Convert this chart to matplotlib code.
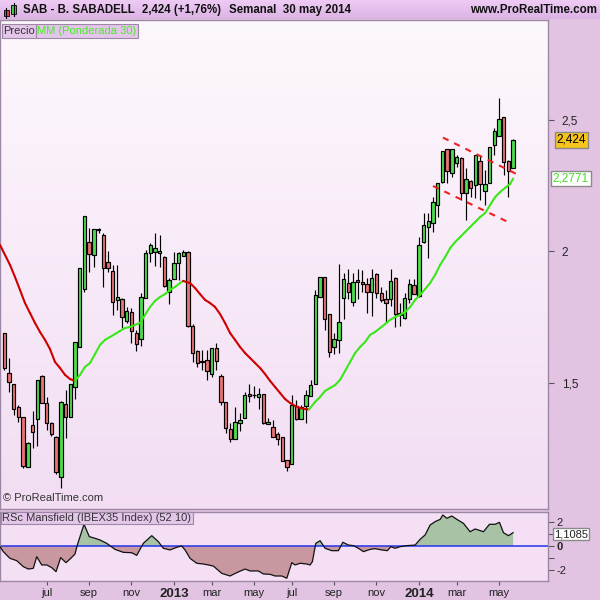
import numpy as np
import pandas as pd
import matplotlib
matplotlib.use("Agg")
import matplotlib.pyplot as plt
from matplotlib.patches import Rectangle
from matplotlib.collections import LineCollection
from matplotlib.colors import LinearSegmentedColormap
import matplotlib.transforms as mtrans

plt.rcParams['font.family'] = ['Liberation Sans', 'DejaVu Sans']

# ---------------- data (weekly candles, SAB - B. SABADELL) ----------------
opens = [1.690, 1.538, 1.496, 1.409, 1.371, 1.181, 1.340, 1.363, 1.527, 1.424,
         1.348, 1.295, 1.143, 1.420, 1.371, 1.485, 1.637, 1.857, 2.036, 1.987,
         2.082, 2.063, 1.960, 1.926, 1.816, 1.819, 1.736, 1.770, 1.690, 1.667,
         1.823, 1.994, 1.998, 1.996, 1.979, 1.846, 1.895, 1.956, 1.983, 1.998,
         1.717, 1.622, 1.582, 1.588, 1.534, 1.633, 1.527, 1.428, 1.325, 1.287,
         1.348, 1.367, 1.458, 1.454, 1.447, 1.458, 1.344, 1.333, 1.306, 1.295,
         1.207, 1.192, 1.413, 1.363, 1.413, 1.451, 1.496, 1.827, 1.903, 1.762,
         1.637, 1.664, 1.823, 1.880, 1.808, 1.892, 1.884, 1.876, 1.846, 1.914,
         1.842, 1.819, 1.819, 1.899, 1.759, 1.747, 1.819, 1.873, 1.831, 2.036,
         2.093, 2.108, 2.177, 2.264, 2.390, 2.299, 2.336, 2.355, 2.222, 2.268,
         2.253, 2.344, 2.230, 2.261, 2.405, 2.439, 2.511, 2.344, 2.317]
highs = [1.690, 1.595, 1.496, 1.416, 1.371, 1.276, 1.394, 1.512, 1.531, 1.447,
         1.352, 1.299, 1.432, 1.474, 1.496, 1.656, 1.937, 2.135, 2.089, 2.085,
         2.089, 2.070, 2.002, 1.949, 1.949, 1.823, 1.789, 1.785, 1.702, 1.842,
         2.006, 2.032, 2.070, 2.063, 1.983, 1.899, 1.998, 1.998, 2.006, 2.002,
         1.724, 1.625, 1.625, 1.625, 1.633, 1.652, 1.534, 1.428, 1.348, 1.409,
         1.386, 1.466, 1.496, 1.489, 1.481, 1.458, 1.367, 1.359, 1.314, 1.295,
         1.207, 1.454, 1.435, 1.416, 1.474, 1.512, 1.854, 1.903, 1.903, 1.762,
         1.690, 1.952, 1.918, 1.933, 1.918, 1.933, 1.930, 1.899, 1.933, 1.918,
         1.865, 1.854, 1.933, 1.903, 1.804, 1.842, 1.895, 1.895, 2.055, 2.146,
         2.146, 2.207, 2.261, 2.382, 2.390, 2.390, 2.367, 2.359, 2.317, 2.272,
         2.367, 2.367, 2.310, 2.397, 2.470, 2.584, 2.511, 2.348, 2.428]
lows = [1.550, 1.466, 1.378, 1.352, 1.177, 1.181, 1.253, 1.261, 1.424, 1.321,
        1.299, 1.154, 1.101, 1.291, 1.371, 1.439, 1.637, 1.846, 1.922, 1.941,
        2.070, 1.865, 1.922, 1.759, 1.778, 1.709, 1.728, 1.652, 1.622, 1.641,
        1.823, 1.960, 1.945, 1.941, 1.865, 1.800, 1.895, 1.892, 1.983, 1.713,
        1.580, 1.561, 1.550, 1.512, 1.523, 1.550, 1.416, 1.310, 1.276, 1.287,
        1.318, 1.367, 1.428, 1.443, 1.401, 1.344, 1.344, 1.295, 1.264, 1.203,
        1.166, 1.192, 1.359, 1.363, 1.348, 1.451, 1.496, 1.827, 1.702, 1.599,
        1.610, 1.614, 1.743, 1.819, 1.793, 1.819, 1.846, 1.766, 1.755, 1.823,
        1.808, 1.728, 1.793, 1.713, 1.717, 1.743, 1.804, 1.838, 1.827, 2.032,
        1.975, 2.074, 2.131, 2.261, 2.261, 2.283, 2.321, 2.196, 2.120, 2.207,
        2.204, 2.196, 2.177, 2.261, 2.367, 2.439, 2.291, 2.207, 2.317]
closes = [1.557, 1.504, 1.401, 1.371, 1.185, 1.272, 1.314, 1.512, 1.424, 1.348,
          1.306, 1.162, 1.428, 1.371, 1.496, 1.656, 1.937, 2.135, 1.990, 2.085,
          2.085, 1.937, 1.937, 1.808, 1.827, 1.751, 1.774, 1.698, 1.648, 1.827,
          1.994, 2.025, 2.013, 2.000, 1.869, 1.892, 1.956, 1.994, 1.998, 1.717,
          1.614, 1.576, 1.578, 1.546, 1.633, 1.584, 1.428, 1.329, 1.287, 1.352,
          1.359, 1.454, 1.451, 1.454, 1.458, 1.348, 1.352, 1.295, 1.287, 1.203,
          1.181, 1.416, 1.363, 1.409, 1.454, 1.492, 1.835, 1.903, 1.743, 1.618,
          1.667, 1.732, 1.895, 1.846, 1.884, 1.884, 1.876, 1.846, 1.899, 1.842,
          1.816, 1.804, 1.888, 1.762, 1.766, 1.823, 1.876, 1.838, 2.025, 2.101,
          2.116, 2.188, 2.261, 2.382, 2.306, 2.390, 2.359, 2.222, 2.276, 2.242,
          2.367, 2.257, 2.257, 2.397, 2.458, 2.504, 2.340, 2.306, 2.424]
dates = pd.date_range('2012-04-30', periods=len(closes), freq='W-MON')

# weighted moving average (30): position in candle units, value
ma_pos = [-0.91, 1.21, 2.27, 3.33, 4.39, 5.46, 6.52, 7.58, 8.64, 9.70, 10.76, 11.83,
          12.89, 13.95, 15.01, 16.07, 17.13, 18.20, 19.26, 20.32, 21.38, 22.44,
          23.50, 24.57, 25.63, 26.69, 27.75, 28.81, 29.87, 30.93, 32.00, 33.06,
          34.12, 35.18, 36.24, 37.30, 37.94, 39.43, 40.49, 41.55, 42.61, 43.67,
          44.73, 45.80, 46.86, 47.92, 48.98, 50.04, 51.10, 52.17, 53.23, 54.29,
          55.35, 56.41, 57.47, 58.53, 59.60, 60.66, 61.72, 62.78, 63.84, 64.69,
          65.97, 67.03, 68.09, 69.15, 70.21, 71.27, 72.34, 73.40, 74.46, 75.52,
          76.58, 77.64, 78.70, 79.77, 80.83, 81.89, 82.95, 84.01, 85.07, 86.14,
          87.20, 88.26, 89.32, 90.38, 91.44, 92.51, 93.57, 94.63, 95.69, 96.75,
          97.81, 98.87, 99.94, 101.00, 102.06, 103.12, 104.18, 105.24, 106.31,
          107.37, 108.00]
ma_val = [2.025, 1.949, 1.903, 1.854, 1.804, 1.766, 1.728, 1.694, 1.664, 1.629, 1.580,
          1.557, 1.531, 1.515, 1.508, 1.531, 1.561, 1.576, 1.610, 1.645, 1.664, 1.675,
          1.686, 1.698, 1.709, 1.713, 1.721, 1.728, 1.759, 1.789, 1.812, 1.827, 1.838,
          1.854, 1.865, 1.880, 1.888, 1.880, 1.861, 1.838, 1.816, 1.804, 1.789, 1.762,
          1.728, 1.690, 1.664, 1.637, 1.614, 1.595, 1.576, 1.557, 1.534, 1.508, 1.485,
          1.462, 1.439, 1.424, 1.413, 1.405, 1.401, 1.400, 1.428, 1.447, 1.470, 1.481,
          1.492, 1.512, 1.546, 1.580, 1.614, 1.637, 1.656, 1.683, 1.694, 1.709, 1.724,
          1.740, 1.751, 1.759, 1.770, 1.789, 1.816, 1.835, 1.857, 1.880, 1.911, 1.949,
          1.979, 2.013, 2.036, 2.055, 2.074, 2.093, 2.112, 2.131, 2.146, 2.177, 2.207,
          2.226, 2.242, 2.257, 2.2771]

# RSc Mansfield (IBEX35 Index) (52 10)
rsc_pos = [-0.91, -0.21, 1.21, 2.63, 4.03, 5.10, 6.16, 6.88, 7.94, 9.00, 10.06, 10.98,
           11.97, 13.10, 14.10, 15.01, 15.50, 16.92, 18.05, 19.26, 20.32, 21.74, 23.50,
           25.27, 27.05, 28.11, 29.51, 31.30, 32.70, 33.76, 35.18, 36.60, 37.66, 38.37,
           39.43, 40.85, 42.25, 43.31, 44.37, 46.16, 47.92, 49.34, 51.10, 52.17, 53.93,
           54.99, 56.41, 57.47, 58.90, 59.96, 61.02, 61.72, 62.78, 64.20, 64.90, 65.39,
           66.11, 67.03, 68.09, 69.51, 70.91, 71.85, 73.04, 74.10, 75.16, 76.22, 77.64,
           78.70, 80.13, 81.32, 82.04, 82.95, 84.01, 85.43, 87.20, 88.26, 89.32, 90.38,
           91.44, 92.51, 93.08, 93.93, 94.99, 96.05, 97.45, 98.87, 99.94, 101.70,
           102.97, 104.18, 105.10, 105.94, 107.00, 108.00]
rsc_val = [-0.05, -0.47, -1.03, -1.22, -1.72, -1.92, -1.86, -0.89, -1.58, -1.58, -1.80,
           -2.14, -0.97, -1.39, -1.03, -0.67, 0.08, 1.81, 0.78, 0.64, 0.50, 0.22, -0.28,
           -0.53, -0.56, -0.78, 0.22, 0.86, 0.36, -0.19, -0.33, -0.11, 0.00, -0.33,
           -1.03, -1.44, -1.50, -1.58, -1.67, -2.28, -2.50, -2.22, -1.92, -2.08, -2.08,
           -2.33, -2.36, -2.50, -2.50, -2.69, -1.39, -1.58, -1.44, -1.50, -1.58, -1.31,
           0.22, 0.44, -0.19, -0.39, -0.39, 0.31, 0.08, 0.03, -0.19, -0.47, -0.28,
           -0.22, -0.33, -0.39, -0.06, -0.19, -0.06, 0.03, 0.08, 0.56, 0.92, 1.75,
           2.03, 2.22, 2.58, 2.31, 2.50, 2.22, 1.89, 1.19, 1.42, 1.19, 1.81, 1.81,
           1.97, 1.11, 0.86, 1.1085]

# hand-drawn trend channel (dashed red)
chan_upper_pos = [93.1, 109.1]
chan_upper_val = [2.433, 2.291]
chan_lower_pos = [91.0, 107.4]
chan_lower_val = [2.249, 2.108]

tick_months = ['2012-07', '2012-09', '2012-11', '2013-01', '2013-03', '2013-05',
               '2013-07', '2013-09', '2013-11', '2014-01', '2014-03', '2014-05']
tick_labels = ['jul', 'sep', 'nov', '2013', 'mar', 'may',
               'jul', 'sep', 'nov', '2014', 'mar', 'may']

price_ticks = [1.5, 2.0, 2.5]
price_tick_labels = ['1,5', '2', '2,5']
rsc_ticks = [-2, 0, 2]
rsc_tick_labels = ['-2', '0', '2']

# ---------------- figure ----------------
H = 600
fig = plt.figure(figsize=(6, 6), dpi=100, facecolor='#e2c4e2')

XL = (-0.91, 115.4)
main_top, main_bot = 20, 509
rsc_top, rsc_bot = 512, 581
right_px = 548

ax = fig.add_axes([0, 1 - main_bot / H, right_px / 600, (main_bot - main_top) / H])
axr = fig.add_axes([0, 1 - rsc_bot / H, right_px / 600, (rsc_bot - rsc_top) / H])

grad = np.linspace(0, 1, 256).reshape(-1, 1)
cm_bg = LinearSegmentedColormap.from_list('bg', ['#fdf8fd', '#f2ddf3'])
ax.imshow(grad, extent=[0, 1, 0, 1], transform=ax.transAxes, cmap=cm_bg,
          aspect='auto', origin='upper', zorder=0)
ax.set_xlim(*XL)
ax.set_ylim(1.021, 2.880)

x = np.arange(len(closes))
up_col, dn_col = '#4fdc4f', '#e87474'
bw = 0.72
for i in range(len(closes)):
    o, h, l, c = opens[i], highs[i], lows[i], closes[i]
    ax.plot([x[i], x[i]], [l, h], color='black', lw=0.85, zorder=2, solid_capstyle='butt')
    col = up_col if c >= o else dn_col
    ax.add_patch(Rectangle((x[i] - bw / 2, min(o, c)), bw, abs(c - o),
                           facecolor=col, edgecolor='black', lw=0.85, zorder=3))

# moving average, coloured by direction
pts = np.column_stack([ma_pos, ma_val])
segs = np.stack([pts[:-1], pts[1:]], axis=1)
cols = ['#3ae81a' if b >= a else '#d00000' for a, b in zip(ma_val[:-1], ma_val[1:])]
ax.add_collection(LineCollection(segs, colors=cols, linewidths=1.5, zorder=4,
                                 capstyle='round'))

# trend channel
for px_, pv_ in [(chan_upper_pos, chan_upper_val), (chan_lower_pos, chan_lower_val)]:
    ax.plot(px_, pv_, color='#ee2222', lw=1.5, ls=(0, (3, 3)), zorder=5)

ax.set_xticks([])
ax.yaxis.tick_right()
ax.set_yticks(price_ticks)
ax.set_yticklabels(price_tick_labels)
ax.tick_params(axis='y', length=4, width=0.8, color='#555555', pad=6,
               labelsize=8.5, labelcolor='#222222')
for s in ax.spines.values():
    s.set_color('#9c88a4')
    s.set_linewidth(1.0)

blend = mtrans.blended_transform_factory(ax.transAxes, ax.transData)
ax.text(1.016, closes[-1], '2,424', transform=blend, fontsize=8.5, color='black',
        va='center', ha='left', clip_on=False,
        bbox=dict(boxstyle='square,pad=0.15', fc='#f6c41a', ec='#8a8a8a', lw=1))
ax.text(1.009, ma_val[-1], '2,2771', transform=blend, fontsize=8.5, color='#44dd22',
        va='center', ha='left', clip_on=False,
        bbox=dict(boxstyle='square,pad=0.15', fc='white', ec='#8a8a8a', lw=1))

ax.text(0.005, 0.012, '\u00a9 ProRealTime.com', transform=ax.transAxes, fontsize=8,
        color='#333333', va='bottom', ha='left', zorder=6)

ax.text(0.006, 0.988, 'Precio', transform=ax.transAxes, fontsize=8, color='#333333',
        va='top', ha='left', zorder=7,
        bbox=dict(boxstyle='square,pad=0.15', fc='#e4c6ea', ec='#9c88a4', lw=0.8))
ax.text(0.068, 0.988, 'MM (Ponderada 30)', transform=ax.transAxes, fontsize=8,
        color='#44ee22', va='top', ha='left', zorder=7,
        bbox=dict(boxstyle='square,pad=0.15', fc='#e4c6ea', ec='#9c88a4', lw=0.8))

# ---------------- RSc panel ----------------
axr.set_facecolor('#f4dff5')
axr.set_xlim(*XL)
axr.set_ylim(-2.917, 2.833)
rp = np.array(rsc_pos)
rv = np.array(rsc_val)
axr.fill_between(rp, rv, 0, where=rv >= 0, interpolate=True, color='#a8c2a6', lw=0, zorder=1)
axr.fill_between(rp, rv, 0, where=rv <= 0, interpolate=True, color='#c9979f', lw=0, zorder=1)
axr.plot(rp, rv, color='#111111', lw=0.9, zorder=3)
axr.axhline(0, color='#2233ee', lw=1.1, zorder=2)
axr.yaxis.tick_right()
axr.set_yticks(rsc_ticks)
axr.set_yticklabels(rsc_tick_labels)
axr.set_yticks([-1, 1], minor=True)
axr.tick_params(axis='y', which='both', length=4, width=0.8, color='#555555', pad=2,
                labelsize=8, labelcolor='#222222')
for lab in axr.get_yticklabels():
    if lab.get_text() == '0':
        lab.set_fontweight('bold')

tick_pos = [int(np.argmax(dates >= pd.Timestamp(m + '-01'))) for m in tick_months]
axr.set_xticks(tick_pos)
axr.set_xticklabels(tick_labels)
axr.tick_params(axis='x', length=3, width=0.8, color='#555555', pad=2,
                labelsize=8, labelcolor='#222222')
for lab in axr.get_xticklabels():
    if lab.get_text() in ('2013', '2014'):
        lab.set_fontweight('bold')
        lab.set_fontsize(9.5)
for s in axr.spines.values():
    s.set_color('#9c88a4')
    s.set_linewidth(1.0)

blend_r = mtrans.blended_transform_factory(axr.transAxes, axr.transData)
axr.text(1.011, 0.98, '1,1085', transform=blend_r, fontsize=8, color='#222222',
         va='center', ha='left', clip_on=False,
         bbox=dict(boxstyle='square,pad=0.08', fc='white', ec='#8a8a8a', lw=1))
axr.text(0.004, 0.985, 'RSc Mansfield (IBEX35 Index) (52 10)', transform=axr.transAxes,
         fontsize=8, color='#333333', va='top', ha='left', zorder=7,
         bbox=dict(boxstyle='square,pad=0.12', fc='#e4c6ea', ec='#9c88a4', lw=0.8))

# ---------------- header bar ----------------
axh = fig.add_axes([0, 1 - 19 / H, 1, 19 / H])
cm_h = LinearSegmentedColormap.from_list('hd', ['#eecbf5', '#dbb3e3'])
axh.imshow(grad, extent=[0, 600, 19, 0], cmap=cm_h, aspect='auto', origin='upper')
axh.set_xlim(0, 600)
axh.set_ylim(19, 0)
axh.axis('off')
axh.plot([6, 6], [8, 18], color='black', lw=0.8)
axh.add_patch(Rectangle((3.5, 10), 5, 6, fc='#e04040', ec='black', lw=0.6))
axh.plot([13.5, 13.5], [3, 16], color='black', lw=0.8)
axh.add_patch(Rectangle((11, 5), 5, 9, fc='#40d040', ec='black', lw=0.6))
axh.text(23, 10, 'SAB - B. SABADELL', fontsize=8.3, fontweight='bold', color='#111111', va='center')
axh.text(142, 10, '2,424 (+1,76%)', fontsize=8.3, fontweight='bold', color='#111111', va='center')
axh.text(229, 10, 'Semanal  30 may 2014', fontsize=8.3, fontweight='bold', color='#111111', va='center')
axh.text(597, 10, 'www.ProRealTime.com', fontsize=8.3, fontweight='bold', color='#111111',
         va='center', ha='right')

fig.savefig('out.png', dpi=100, facecolor=fig.get_facecolor())
